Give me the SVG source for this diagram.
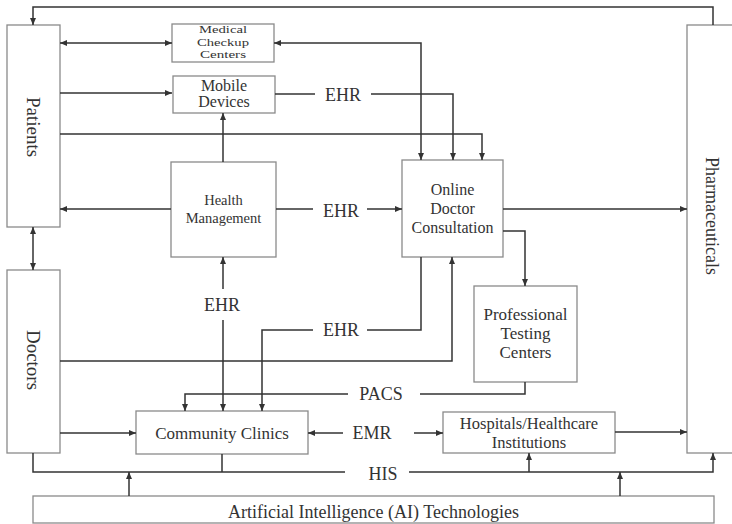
<svg xmlns="http://www.w3.org/2000/svg" width="732" height="524" viewBox="0 0 732 524" font-family="'Liberation Serif', 'DejaVu Serif', serif">
<style>
.box{fill:#fff;stroke:#8a8a8a;stroke-width:1.3}
.t{font-family:'Liberation Serif','DejaVu Serif',serif;fill:#333;text-anchor:middle}
.c{fill:none;stroke:#333;stroke-width:1.5}
.a{marker-end:url(#ah)}
.b{marker-start:url(#ah);marker-end:url(#ah)}
</style>
<defs>
<marker id="ah" markerWidth="8" markerHeight="6" refX="7" refY="3" orient="auto-start-reverse" markerUnits="userSpaceOnUse">
<path d="M0,0 L7,3 L0,6 Z" fill="#333"/>
</marker>
</defs>
<rect width="732" height="524" fill="#fff"/>

<g id="patients"><rect class="box" x="7" y="25" width="53" height="202"/><text class="t" font-size="19" transform="translate(33,127) rotate(90)" dominant-baseline="central">Patients</text></g>
<g id="doctors"><rect class="box" x="7" y="270" width="53" height="183"/><text class="t" font-size="19" transform="translate(33,360) rotate(90)" dominant-baseline="central">Doctors</text></g>
<g id="pharmaceuticals"><rect class="box" x="687" y="25" width="60" height="428"/><text class="t" font-size="18" transform="translate(712,216) rotate(90)" dominant-baseline="central">Pharmaceuticals</text></g>
<g id="medical-checkup"><rect class="box" x="172" y="24" width="102" height="38"/><text class="t" font-size="11"><tspan x="223" y="33" textLength="48" lengthAdjust="spacingAndGlyphs">Medical</tspan><tspan x="223" y="45.5" textLength="52" lengthAdjust="spacingAndGlyphs">Checkup</tspan><tspan x="223" y="58" textLength="46" lengthAdjust="spacingAndGlyphs">Centers</tspan></text></g>
<g id="mobile-devices"><rect class="box" x="173" y="76" width="102" height="37"/><text class="t" font-size="16"><tspan x="224" y="91">Mobile</tspan><tspan x="224" y="107">Devices</tspan></text></g>
<g id="health-management"><rect class="box" x="171" y="162" width="105" height="95"/><text class="t" font-size="14.5"><tspan x="223.5" y="205">Health</tspan><tspan x="223.5" y="223">Management</tspan></text></g>
<g id="online-doctor"><rect class="box" x="402" y="160" width="101" height="97"/><text class="t" font-size="16"><tspan x="452.5" y="195">Online</tspan><tspan x="452.5" y="214">Doctor</tspan><tspan x="452.5" y="233">Consultation</tspan></text></g>
<g id="testing-centers"><rect class="box" x="474" y="286" width="103" height="96"/><text class="t" font-size="17"><tspan x="525.5" y="320">Professional</tspan><tspan x="525.5" y="339">Testing</tspan><tspan x="525.5" y="358">Centers</tspan></text></g>
<g id="community-clinics"><rect class="box" x="136" y="411" width="172" height="43"/><text class="t" font-size="17" x="222" y="439">Community Clinics</text></g>
<g id="hospitals"><rect class="box" x="443" y="412" width="172" height="41"/><text class="t" font-size="16.5"><tspan x="529" y="429">Hospitals/Healthcare</tspan><tspan x="529" y="448">Institutions</tspan></text></g>
<g id="ai"><rect class="box" x="33" y="496" width="681" height="27"/><text class="t" font-size="18" x="373.5" y="518">Artificial Intelligence (AI) Technologies</text></g>

<g id="connectors">
<path class="c a" d="M713,25 V7 H33 V25"/>
<path class="c b" d="M33,227 V270"/>
<path class="c b" d="M60,43 H172"/>
<path class="c a" d="M60,93 H172"/>
<path class="c a" d="M60,134 H482 V160"/>
<path class="c a" d="M223,162 V113"/>
<path class="c a" d="M171,209 H60"/>
<path class="c" d="M276,209 H313"/>
<path class="c a" d="M367,209 H402"/>
<path class="c" d="M275,94 H315"/>
<path class="c a" d="M371,94 H453 V160"/>
<path class="c b" d="M421,160 V43 H274"/>
<path class="c a" d="M503,209 H687"/>
<path class="c a" d="M503,231 H525 V286"/>
<path class="c" d="M421,257 V330 H367"/>
<path class="c a" d="M313,330 H262 V411"/>
<path class="c a" d="M60,361 H452 V257"/>
<path class="c a" d="M223,289 V257"/>
<path class="c a" d="M223,320 V411"/>
<path class="c" d="M525,382 V394 H420"/>
<path class="c a" d="M348,394 H185 V411"/>
<path class="c a" d="M60,433 H136"/>
<path class="c a" d="M343,433 H308"/>
<path class="c a" d="M414,433 H443"/>
<path class="c a" d="M615,432 H687"/>
<path class="c" d="M33,453 V472 H345"/>
<path class="c" d="M222,454 V472"/>
<path class="c a" d="M409,472 H713 V453"/>
<path class="c a" d="M529,472 V453"/>
<path class="c a" d="M129,496 V472"/>
<path class="c a" d="M620,496 V472"/>
<text class="t" font-size="18" x="343" y="101">EHR</text>
<text class="t" font-size="18" x="341" y="217">EHR</text>
<text class="t" font-size="18" x="341" y="336">EHR</text>
<text class="t" font-size="18" x="222" y="311">EHR</text>
<text class="t" font-size="18" x="381" y="400">PACS</text>
<text class="t" font-size="18" x="372" y="439">EMR</text>
<text class="t" font-size="18" x="383" y="480">HIS</text>
</g>
</svg>
